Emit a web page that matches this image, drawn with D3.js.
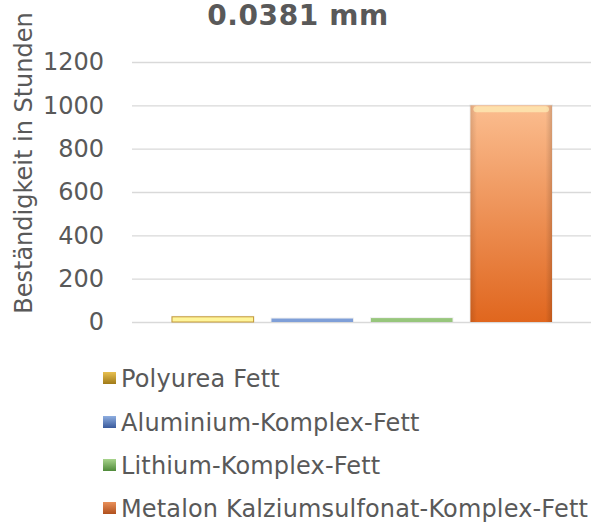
<!DOCTYPE html>
<html><head><meta charset="utf-8">
<script src="https://cdn.jsdelivr.net/npm/d3@7"></script>
<style>body{margin:0;background:#fff}svg{display:block}</style>
</head><body><svg id="c" width="599" height="522"></svg>
<script>
const title = "0.0381 mm";
const yTitle = "Beständigkeit in Stunden";
const seriesNames = ["Polyurea Fett","Aluminium-Komplex-Fett","Lithium-Komplex-Fett","Metalon Kalziumsulfonat-Komplex-Fett"];
const seriesValues = [24, 16, 18, 1000];
const yTicks = [0,200,400,600,800,1000,1200];
const fills = ["#fff59a","#7f9fd8","#97c67c","url(#gOrange)"];
const strokes = ["#c49a3a","#7f9fd8","#97c67c","#c8682a"];
const legendTop = ["#e8c050","#8eaee0","#a8d48c","#e9905a"];
const legendBot = ["#a07a18","#3a5a9c","#4f8a3a","#b0501e"];

const svg = d3.select("#c");
const font = "DejaVu Sans, Verdana, sans-serif";
const txt = "#595959";
const defs = svg.append("defs");
const go = defs.append("linearGradient").attr("id","gOrange").attr("x1",0).attr("y1",0).attr("x2",0).attr("y2",1);
go.append("stop").attr("offset","0%").attr("stop-color","#fbbd8f");
go.append("stop").attr("offset","100%").attr("stop-color","#e0661e");
const gsh = defs.append("linearGradient").attr("id","gSide").attr("x1",0).attr("y1",0).attr("x2",1).attr("y2",0);
gsh.append("stop").attr("offset","0%").attr("stop-color","#000").attr("stop-opacity",0.12);
gsh.append("stop").attr("offset","8%").attr("stop-color","#000").attr("stop-opacity",0);
gsh.append("stop").attr("offset","92%").attr("stop-color","#000").attr("stop-opacity",0);
gsh.append("stop").attr("offset","100%").attr("stop-color","#000").attr("stop-opacity",0.15);
seriesNames.forEach((s,i)=>{
  const g = defs.append("linearGradient").attr("id","lg"+i).attr("x1",0).attr("y1",0).attr("x2",0).attr("y2",1);
  g.append("stop").attr("offset","0%").attr("stop-color",legendTop[i]);
  g.append("stop").attr("offset","100%").attr("stop-color",legendBot[i]);
});

const y = d3.scaleLinear().domain([0,1200]).range([322,62]);
const plotL = 132, plotR = 591;
const x = d3.scaleBand().domain(seriesNames).range([172,552]).paddingInner(0.18).paddingOuter(0);

// gridlines
const yAxis = d3.axisLeft(y).tickValues(yTicks).tickFormat(d3.format("d")).tickSize(-(plotR-plotL)).tickPadding(28);
const ga = svg.append("g").attr("transform",`translate(${plotL},0)`).call(yAxis);
ga.select(".domain").remove();
ga.selectAll(".tick line").attr("stroke","#d9d9d9").attr("stroke-width",1.3);
ga.selectAll(".tick text").attr("font-family",font).attr("font-size",24).attr("fill",txt).attr("x",-28);

// bars
const bars = svg.append("g");
seriesNames.forEach((s,i)=>{
  const bx = x(s), bw = x.bandwidth(), by = y(seriesValues[i]), bh = y(0)-y(seriesValues[i]);
  bars.append("rect").attr("x",bx-1).attr("y",by-1).attr("width",bw+2).attr("height",bh+1)
    .attr("fill","#000").attr("opacity",0.06);
  bars.append("rect").attr("x",bx).attr("y",by).attr("width",bw).attr("height",bh)
    .attr("fill",fills[i]).attr("stroke", i===0?strokes[i]:"none").attr("stroke-width", i===0?1:0);
  if(i===3){
    bars.append("rect").attr("x",bx).attr("y",by).attr("width",bw).attr("height",bh).attr("fill","url(#gSide)");
    bars.append("rect").attr("x",bx+3).attr("y",by+1).attr("width",bw-6).attr("height",6)
      .attr("fill","#fff8c0").attr("opacity",0.6).attr("rx",3);
  }
});

// title
svg.append("text").attr("x",298).attr("y",25).attr("text-anchor","middle")
  .attr("font-family",font).attr("font-weight","bold").attr("font-size",28).attr("letter-spacing",0.6).attr("fill",txt).text(title);

// y title
svg.append("text").attr("transform","translate(32,163) rotate(-90)").attr("text-anchor","middle")
  .attr("font-family",font).attr("font-size",24).attr("fill",txt).text(yTitle);

// legend
const leg = svg.append("g");
const legBase = [387,431,474,517];
seriesNames.forEach((s,i)=>{
  leg.append("rect").attr("x",103).attr("y",legBase[i]-15).attr("width",13).attr("height",12).attr("fill",`url(#lg${i})`);
  leg.append("text").attr("x",121).attr("y",legBase[i])
    .attr("font-family",font).attr("font-size",24).attr("letter-spacing",0.15).attr("fill",txt).text(s);
});
</script></body></html>
